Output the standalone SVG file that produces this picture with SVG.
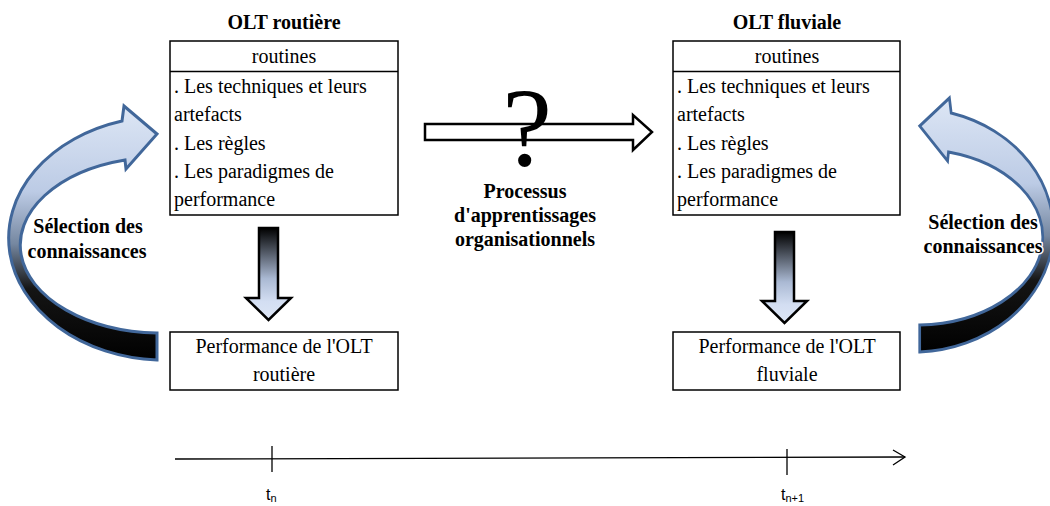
<svg xmlns="http://www.w3.org/2000/svg" width="1050" height="506" viewBox="0 0 1050 506">
<style>
.box{fill:#fff;stroke:#000;stroke-width:1.5}
.t{font-family:"Liberation Serif","Times New Roman",serif;font-size:20px;fill:#000}
.q{font-size:112px}
.c{text-anchor:middle}
.b{font-weight:bold}
.glow{paint-order:stroke;stroke:#fff;stroke-width:3;stroke-linejoin:round}
.curve{stroke:#41679a;stroke-width:3;stroke-linejoin:miter}
.down{stroke:#000;stroke-width:2.5}
.s{font-family:"Liberation Sans",Arial,sans-serif;fill:#000;font-size:16px}
.sub{font-size:11px}
</style>
<defs>
<linearGradient id="gc" gradientUnits="userSpaceOnUse" x1="0" y1="100" x2="0" y2="362">
<stop offset="0" stop-color="#dfe8f6"/>
<stop offset="0.35" stop-color="#bccbe5"/>
<stop offset="0.55" stop-color="#7587a0"/>
<stop offset="0.72" stop-color="#151515"/>
<stop offset="1" stop-color="#000"/>
</linearGradient>
<linearGradient id="gd" x1="0" y1="0" x2="0" y2="1">
<stop offset="0" stop-color="#000"/>
<stop offset="0.55" stop-color="#aab9d3"/>
<stop offset="0.8" stop-color="#d3def2"/>
<stop offset="1" stop-color="#dde6f5"/>
</linearGradient>
</defs>

<g id="connectors">
<path id="curve-left" class="curve" fill="url(#gc)" d="M157,360 A157,122 0 0 1 122,121 L124,106 L157,134 L126,169 L125,160 A141,88 0 0 0 157,333 Z"/>
<g transform="translate(1061,-8) scale(-0.9,1)">
<path id="curve-right" class="curve" fill="url(#gc)" d="M157,360 A157,122 0 0 1 122,121 L124,106 L157,134 L126,169 L125,160 A141,88 0 0 0 157,333 Z"/>
</g>
<path id="down-left" class="down" fill="url(#gd)" d="M259,228 L278,228 L278,298 L291,298 L268.5,320 L246,298 L259,298 Z"/>
<path id="down-right" class="down" fill="url(#gd)" d="M775,232 L794,232 L794,301 L807,301 L784.5,323 L762,301 L775,301 Z"/>
<path id="mid-arrow" fill="#fff" stroke="#000" stroke-width="2.5" d="M425,124 L633,124 L633,115 L652,132 L633,150 L633,140 L425,140 Z"/>
<g id="timeline" stroke="#000" stroke-width="1.3" fill="none">
<line x1="175" y1="459" x2="905" y2="457"/>
<polyline points="893,450 905,457 893,465"/>
<line x1="272" y1="446" x2="272" y2="472"/>
<line x1="787" y1="449" x2="787" y2="475"/>
</g>
</g>

<g id="node-olt-routiere">
<text class="t c b" x="284" y="29">OLT routière</text>
<rect class="box" x="170" y="41" width="228" height="174"/>
<line x1="170" y1="71.5" x2="398" y2="71.5" stroke="#000" stroke-width="1.5"/>
<text class="t c" x="284" y="63">routines</text>
<text class="t" x="174" y="93">. Les techniques et leurs</text>
<text class="t" x="174" y="121">artefacts</text>
<text class="t" x="174" y="150">. Les règles</text>
<text class="t" x="174" y="178">. Les paradigmes de</text>
<text class="t" x="174" y="206">performance</text>
</g>

<g id="node-olt-fluviale">
<text class="t c b" x="787" y="29">OLT fluviale</text>
<rect class="box" x="673" y="41" width="227" height="174"/>
<line x1="673" y1="71.5" x2="900" y2="71.5" stroke="#000" stroke-width="1.5"/>
<text class="t c" x="787" y="63">routines</text>
<text class="t" x="677" y="93">. Les techniques et leurs</text>
<text class="t" x="677" y="121">artefacts</text>
<text class="t" x="677" y="150">. Les règles</text>
<text class="t" x="677" y="178">. Les paradigmes de</text>
<text class="t" x="677" y="206">performance</text>
</g>

<g id="node-perf-routiere">
<rect class="box" x="170" y="332" width="228" height="58"/>
<text class="t c" x="284" y="353">Performance de l'OLT</text>
<text class="t c" x="284" y="381">routière</text>
</g>

<g id="node-perf-fluviale">
<rect class="box" x="673" y="332" width="227" height="58"/>
<text class="t c" x="787" y="353">Performance de l'OLT</text>
<text class="t c" x="787" y="381">fluviale</text>
</g>

<g id="node-processus">
<text class="t q c" x="527" y="165">?</text>
<text class="t c b" x="525" y="198">Processus</text>
<text class="t c b" x="525" y="222">d'apprentissages</text>
<text class="t c b" x="525" y="246">organisationnels</text>
</g>

<g id="label-selection-left">
<text class="t c b glow" x="88" y="233">Sélection des</text>
<text class="t c b glow" x="87" y="258">connaissances</text>
</g>
<g id="label-selection-right">
<text class="t c b glow" x="983" y="229">Sélection des</text>
<text class="t c b glow" x="983" y="253">connaissances</text>
</g>

<g id="time-labels">
<text class="s" x="266" y="500">t<tspan class="sub" dy="2">n</tspan></text>
<text class="s" x="781" y="500">t<tspan class="sub" dy="2">n+1</tspan></text>
</g>
</svg>
